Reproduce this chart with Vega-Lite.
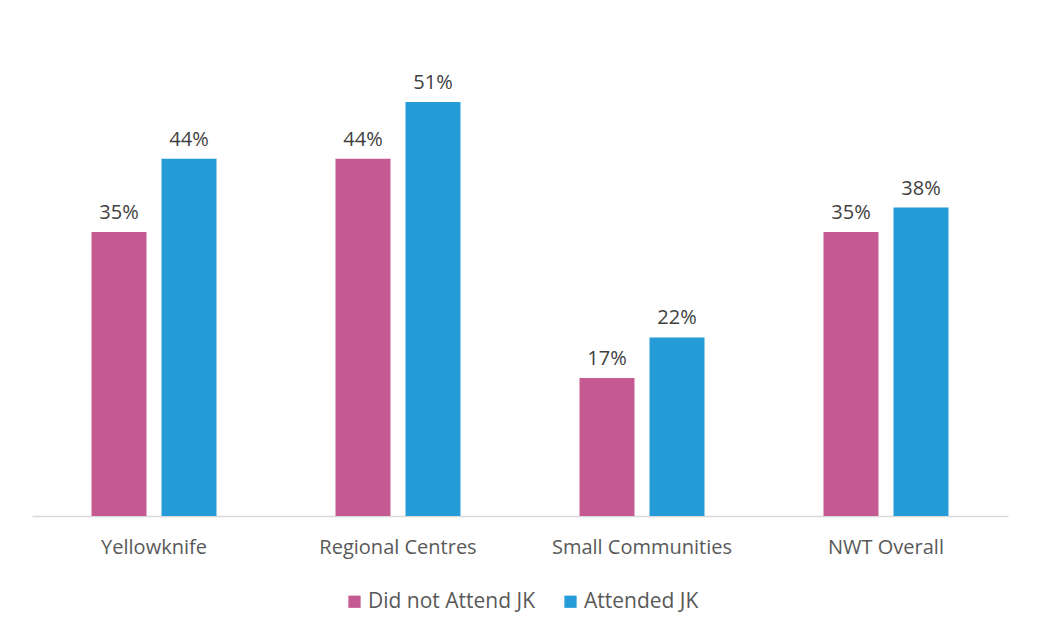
{
  "$schema": "https://vega.github.io/schema/vega-lite/v6.json",
  "width": 976,
  "height": 487,
  "padding": {"left": 32, "top": 29, "right": 30, "bottom": 10},
  "background": "white",
  "config": {
    "view": {"stroke": null},
    "font": "Open Sans",
    "text": {"font": "Open Sans"}
  },
  "data": {
    "values": [
      {"region": "Yellowknife", "group": "Did not Attend JK", "value": 0.35},
      {"region": "Yellowknife", "group": "Attended JK", "value": 0.44},
      {"region": "Regional Centres", "group": "Did not Attend JK", "value": 0.44},
      {"region": "Regional Centres", "group": "Attended JK", "value": 0.51},
      {"region": "Small Communities", "group": "Did not Attend JK", "value": 0.17},
      {"region": "Small Communities", "group": "Attended JK", "value": 0.22},
      {"region": "NWT Overall", "group": "Did not Attend JK", "value": 0.35},
      {"region": "NWT Overall", "group": "Attended JK", "value": 0.38}
    ]
  },
  "encoding": {
    "x": {
      "field": "region",
      "type": "nominal",
      "sort": null,
      "scale": {"paddingInner": 0, "paddingOuter": 0},
      "axis": {
        "title": null,
        "labelAngle": 0,
        "ticks": false,
        "labelPadding": 21,
        "labelFontSize": 20,
        "labelLimit": 400,
        "labelColor": "#595959",
        "labelFont": "Open Sans",
        "domainColor": "#D9D9D9",
        "domainWidth": 1.5
      }
    },
    "xOffset": {
      "field": "group",
      "type": "nominal",
      "sort": ["Did not Attend JK", "Attended JK"],
      "scale": {"paddingInner": 0.2143, "paddingOuter": 0.85}
    },
    "y": {
      "field": "value",
      "type": "quantitative",
      "scale": {"domain": [0, 0.6]},
      "axis": null
    }
  },
  "layer": [
    {
      "mark": {"type": "bar"},
      "encoding": {
        "color": {
          "field": "group",
          "type": "nominal",
          "sort": ["Did not Attend JK", "Attended JK"],
          "scale": {"domain": ["Did not Attend JK", "Attended JK"], "range": ["#C55A93", "#259BD7"]},
          "legend": {
            "title": null,
            "orient": "none",
            "legendX": 312,
            "legendY": 562,
            "direction": "horizontal",
            "symbolType": "square",
            "symbolSize": 150,
            "symbolStrokeWidth": 0,
            "labelFontSize": 21,
            "labelLimit": 400,
            "labelColor": "#595959",
            "labelFont": "Open Sans",
            "columnPadding": 24,
            "labelOffset": 3
          }
        }
      }
    },
    {
      "mark": {"type": "text", "baseline": "bottom", "dy": -9, "fontSize": 20, "color": "#404040", "font": "Open Sans"},
      "encoding": {
        "text": {"field": "value", "type": "quantitative", "format": ".0%"}
      }
    }
  ]
}
